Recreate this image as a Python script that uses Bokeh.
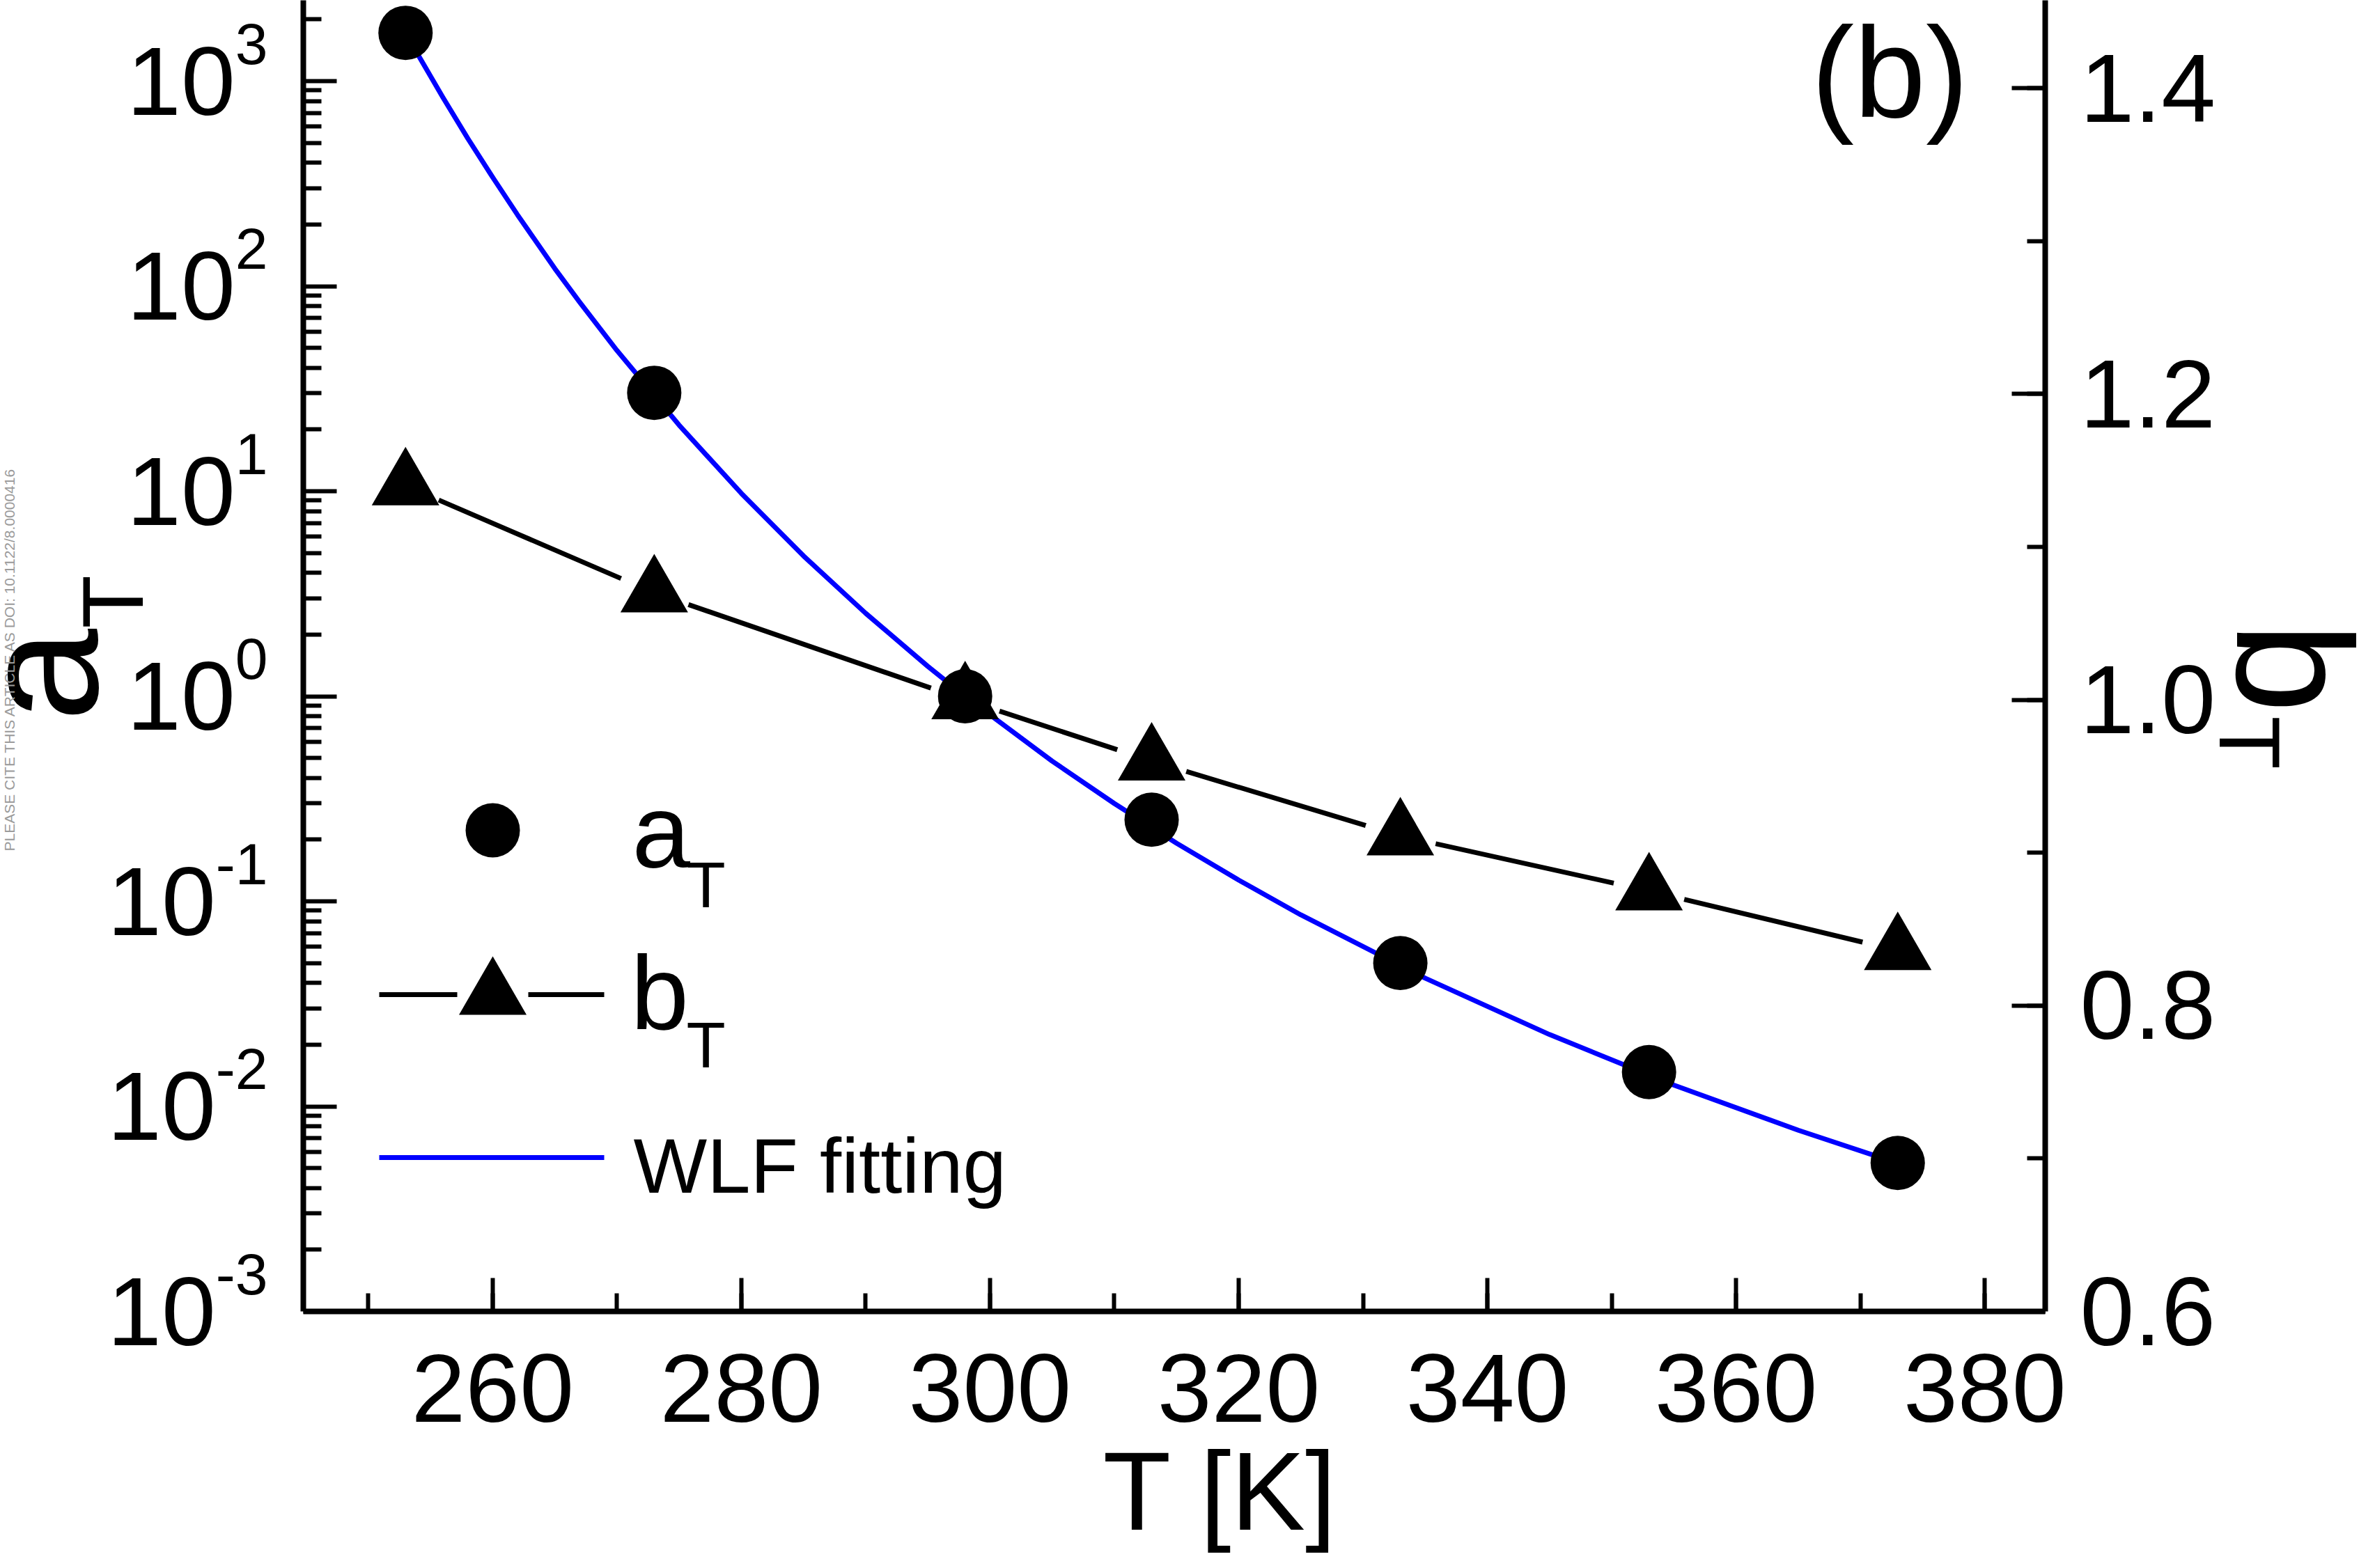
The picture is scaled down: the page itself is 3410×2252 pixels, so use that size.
import math
from bokeh.plotting import figure
from bokeh.layouts import column
from bokeh.models import (Range1d, LinearAxis, LinearScale, FixedTicker, SingleIntervalTicker,
                          PrintfTickFormatter, CustomJSTickFormatter)
from bokeh.core.properties import value
from bokeh.embed import file_html
from bokeh.resources import INLINE

# ---------------- data ----------------
T_K = [253, 273, 298, 313, 333, 353, 373]
a_T = [1720, 30.2, 1.0, 0.25, 0.050, 0.0147, 0.0053]
b_T = [1.140, 1.070, 1.000, 0.960, 0.911, 0.875, 0.836]

wlf_T = [253, 254, 256, 258, 260, 262, 265, 267, 270, 275, 280, 285, 290, 295,
         298, 305, 310, 315, 320, 325, 335, 345, 355, 365, 373]
wlf_a = [1720, 1345, 834, 526, 340, 223, 122, 83.6, 48.6, 21.0, 9.77, 4.84, 2.54, 1.40,
         1.0, 0.483, 0.300, 0.192, 0.127, 0.0859, 0.0422, 0.0224, 0.0127, 0.00765, 0.00528]

log_exponents = [-3, -2, -1, 0, 1, 2, 3]
legend_labels = ["a", "b", "WLF fitting"]
subscript = "T"
x_title = "T [K]"
panel_tag = "(b)"
watermark = "PLEASE CITE THIS ARTICLE AS DOI: 10.1122/8.0000416"

# ---------------- layout ----------------
W, H = 3394, 2236
FL, FR, FB = 435, 2936, 1883
X0, X1 = 244.78, 384.86
DEC = 294.5
LOG_BOT = -3.0
LOG_TOP = LOG_BOT + FB / DEC
R0 = 0.6
R1 = R0 + FB / 2196.0
FONT = "Liberation Sans"
BASE_SHIFT = 0.355  # compensates the baseline offset of the svg text renderer


def fx(px):
    return X0 + (px - FL) * (X1 - X0) / (FR - FL)


def fyl(py):
    return 10 ** (LOG_TOP - py / DEC)


p = figure(width=W, height=H, x_range=Range1d(X0, X1),
           y_range=Range1d(10 ** LOG_BOT, 10 ** LOG_TOP), y_axis_type="log",
           output_backend="svg", toolbar_location=None,
           min_border_left=FL, min_border_right=W - FR,
           min_border_top=0, min_border_bottom=H - FB)
p.extra_y_ranges = {"right": Range1d(R0, R1)}
p.extra_y_scales = {"right": LinearScale()}
p.outline_line_color = None
p.background_fill_color = "white"
p.border_fill_color = "white"
p.xgrid.visible = False
p.ygrid.visible = False


def style(ax):
    ax.axis_line_width = 8
    ax.axis_line_color = "black"
    ax.major_tick_line_width = 6
    ax.minor_tick_line_width = 6
    ax.major_tick_line_color = "black"
    ax.minor_tick_line_color = "black"
    ax.major_tick_in = 48
    ax.major_tick_out = 0
    ax.minor_tick_in = 26
    ax.minor_tick_out = 0
    ax.major_label_text_font = FONT
    ax.major_label_text_font_size = "140px"
    ax.major_label_text_color = "black"


xax = p.below[0]
style(xax)
xax.ticker = SingleIntervalTicker(interval=20, num_minor_ticks=2)
xax.major_label_standoff = 62

lax = p.left[0]
style(lax)
lax.ticker = FixedTicker(ticks=[10.0 ** e for e in log_exponents],
                         minor_ticks=[k * 10.0 ** e for e in range(-3, 4) for k in range(2, 10)])
lax.formatter = CustomJSTickFormatter(code="return '';")
lax.major_label_standoff = 0

rax = LinearAxis(y_range_name="right")
style(rax)
rax.ticker = SingleIntervalTicker(interval=0.2, num_minor_ticks=2)
rax.formatter = PrintfTickFormatter(format="%.1f")
rax.major_label_standoff = 50
p.add_layout(rax, "right")

# ---------------- data marks ----------------
p.line(T_K, b_T, y_range_name="right", line_color="black", line_width=7)
p.scatter(T_K, b_T, y_range_name="right", marker="circle", size=104,
          fill_color="white", line_color=None)
p.line(wlf_T, wlf_a, line_color="#0000ff", line_width=7, line_join="round")
p.scatter(T_K, a_T, marker="circle", size=78, fill_color="black", line_color=None)
p.scatter(T_K, b_T, y_range_name="right", marker="triangle", size=97,
          fill_color="black", line_color=None)

# ---------------- legend symbols ----------------
p.scatter([fx(707)], [fyl(1192)], marker="circle", size=78, fill_color="black", line_color=None)
p.line([fx(544), fx(656)], [fyl(1428), fyl(1428)], line_color="black", line_width=7)
p.line([fx(758), fx(867)], [fyl(1428), fyl(1428)], line_color="black", line_width=7)
p.scatter([fx(707)], [fyl(1429)], marker="triangle", size=97, fill_color="black", line_color=None)
p.line([fx(544), fx(867)], [fyl(1662), fyl(1662)], line_color="#0000ff", line_width=7)

# ---------------- text overlay (pixel space, same size as the plot) ----------------
t = figure(width=W, height=H, x_range=Range1d(0, W), y_range=Range1d(H, 0),
           output_backend="svg", toolbar_location=None,
           x_axis_location=None, y_axis_location=None,
           min_border_left=0, min_border_right=0, min_border_top=0, min_border_bottom=0,
           styles={"margin-top": f"-{H}px"})
t.background_fill_alpha = 0
t.border_fill_alpha = 0
t.outline_line_color = None
t.xgrid.visible = False
t.ygrid.visible = False
for fig in (p, t):
    if "frame_align" in fig.properties():
        fig.frame_align = False


def txt(x, y, s, size, align="left", angle=0.0, color="black"):
    d = BASE_SHIFT * size
    xs = x - math.sin(angle) * d
    ys = y - math.cos(angle) * d
    t.text(x=[xs], y=[ys], text=[s], text_font=value(FONT), text_font_size=value(f"{size}px"),
           text_align=align, text_baseline="alphabetic", angle=angle, text_color=color)


SUP = 84
R = 384
for e in log_exponents:
    sup = str(e)
    sw = sum(0.333 if c == "-" else 0.556 for c in sup) * SUP
    tick_py = FB - (e - LOG_BOT) * DEC
    txt(R - sw, tick_py + 50, "10", 140, align="right")
    txt(R, tick_py - 24, sup, SUP, align="right")

txt(1752, 2198, x_title, 160, align="center")
txt(142, 1036, legend_labels[0], 240, angle=math.pi / 2)
txt(205, 902, subscript, 125, angle=math.pi / 2)
txt(3210, 893, legend_labels[1], 235, angle=-math.pi / 2)
txt(3186, 1028, subscript, 125, angle=-math.pi / 2)
txt(2600, 170, panel_tag, 185)
txt(20, 1222, watermark, 21, angle=math.pi / 2, color="#9b9b9b")

txt(907, 1247, legend_labels[0], 150)
txt(985, 1303, subscript, 92)
txt(905, 1479, legend_labels[1], 150)
txt(985, 1533, subscript, 92)
txt(909, 1714, legend_labels[2], 112)

layout = column(p, t)
open("out.html", "w").write(file_html(layout, INLINE))
